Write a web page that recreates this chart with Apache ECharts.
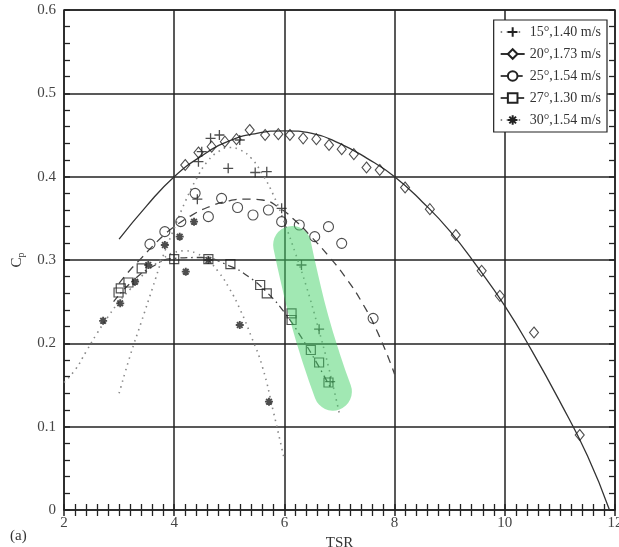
<!DOCTYPE html>
<html>
<head>
<meta charset="utf-8">
<script src="https://cdn.jsdelivr.net/npm/echarts@6/dist/echarts.min.js"></script>
<style>
  html, body { margin: 0; padding: 0; background: #fff; }
  #chart { width: 619px; height: 547px; }
</style>
</head>
<body>
<div id="chart"></div>
<script>
// Measured points (TSR, Cp) for each pitch angle / wind speed case
const seriesNames = ['15°,1.40 m/s', '20°,1.73 m/s', '25°,1.54 m/s', '27°,1.30 m/s', '30°,1.54 m/s'];

const pts15 = [[4.44,0.418],[4.50,0.430],[4.66,0.446],[4.82,0.450],[4.98,0.410],[5.19,0.444],
  [5.47,0.405],[5.68,0.406],[4.42,0.373],[5.95,0.362],[6.31,0.294],[6.63,0.217],[6.83,0.154]];
const pts20 = [[4.20,0.414],[4.44,0.429],[4.68,0.436],[4.92,0.442],[5.13,0.445],[5.37,0.456],
  [5.65,0.450],[5.89,0.451],[6.10,0.450],[6.34,0.446],[6.58,0.445],[6.81,0.438],[7.04,0.433],
  [7.26,0.427],[7.49,0.411],[7.73,0.408],[8.19,0.387],[8.64,0.361],[9.11,0.330],[9.58,0.287],
  [9.91,0.257],[10.53,0.213],[11.36,0.090]];
const pts25 = [[3.56,0.319],[3.83,0.334],[4.12,0.346],[4.38,0.380],[4.62,0.352],[4.86,0.374],
  [5.15,0.363],[5.43,0.354],[5.71,0.360],[5.95,0.346],[6.27,0.342],[6.55,0.328],[6.80,0.340],
  [7.04,0.320],[7.61,0.230]];
const pts27 = [[2.99,0.261],[3.03,0.266],[3.17,0.273],[3.41,0.290],[4.00,0.301],[4.62,0.301],
  [5.02,0.295],[5.56,0.270],[5.68,0.260],[6.13,0.236],[6.13,0.228],[6.48,0.192],[6.63,0.177],[6.80,0.153]];
const pts30 = [[2.71,0.227],[3.02,0.248],[3.29,0.274],[3.53,0.294],[3.83,0.318],[4.10,0.328],
  [4.36,0.346],[4.21,0.286],[4.62,0.300],[5.19,0.222],[5.72,0.130]];

// Fitted curves through each case
const fit15 = [[3.0,0.140],[3.2,0.185],[3.4,0.225],[3.6,0.265],[3.8,0.305],[4.0,0.338],[4.2,0.370],
  [4.4,0.397],[4.6,0.418],[4.8,0.430],[5.0,0.435],[5.2,0.432],[5.4,0.422],[5.6,0.403],[5.8,0.378],
  [6.0,0.345],[6.2,0.308],[6.4,0.268],[6.6,0.222],[6.8,0.172],[7.0,0.115]];
const fit20 = [[3.0,0.325],[3.5,0.365],[4.0,0.400],[4.5,0.425],[5.0,0.443],[5.5,0.452],[6.0,0.455],
  [6.5,0.452],[7.0,0.440],[7.5,0.422],[8.0,0.400],[8.5,0.370],[9.0,0.335],[9.5,0.292],[10.0,0.245],
  [10.5,0.190],[11.0,0.130],[11.5,0.065],[11.9,0.000]];
const fit25 = [[3.0,0.272],[3.2,0.288],[3.4,0.302],[3.6,0.316],[3.8,0.329],[4.0,0.340],[4.3,0.353],
  [4.6,0.363],[5.0,0.371],[5.3,0.373],[5.6,0.372],[5.9,0.363],[6.2,0.347],[6.5,0.327],[6.8,0.305],
  [7.1,0.280],[7.4,0.250],[7.7,0.212],[8.0,0.163]];
const fit27 = [[2.9,0.250],[3.2,0.272],[3.6,0.292],[4.0,0.302],[4.5,0.303],[5.0,0.293],[5.35,0.280],
  [5.7,0.260],[6.0,0.237],[6.3,0.208],[6.6,0.175],[6.85,0.145]];
const fit30 = [[2.0,0.153],[2.2,0.168],[2.4,0.190],[2.6,0.212],[2.8,0.232],[3.0,0.250],[3.2,0.265],
  [3.4,0.280],[3.6,0.292],[3.8,0.302],[4.0,0.309],[4.2,0.311],[4.4,0.308],[4.6,0.300],[4.8,0.286],
  [5.0,0.266],[5.2,0.240],[5.4,0.208],[5.6,0.172],[5.8,0.118],[6.0,0.060]];

// Highlighted stroke over the descending branch
const highlight = [[6.14,0.318],[6.28,0.276],[6.46,0.228],[6.68,0.180],[6.88,0.142]];

const xTicks = { min: 2, max: 12, interval: 2 };
const yTicks = { min: 0, max: 0.6, interval: 0.1 };

const SERIF = 'Liberation Serif';
const INK = '#222';

const symPlus = 'path://M5,0L5,10M0,5L10,5';
const symStar = 'path://M5,0L5,10M0,5L10,5M1.5,1.5L8.5,8.5M8.5,1.5L1.5,8.5';

const groups = [
  { name: seriesNames[0], pts: pts15, fit: fit15, symbol: symPlus, size: 10, bw: 1.3,
    line: { color: '#888', width: 1.6, type: [1.5, 4.5] } },
  { name: seriesNames[1], pts: pts20, fit: fit20, symbol: 'diamond', size: [9, 11], bw: 1.1,
    line: { color: '#333', width: 1.3, type: 'solid' } },
  { name: seriesNames[2], pts: pts25, fit: fit25, symbol: 'circle', size: 10, bw: 1.1,
    line: { color: '#444', width: 1.3, type: [8, 6] } },
  { name: seriesNames[3], pts: pts27, fit: fit27, symbol: 'rect', size: 9, bw: 1.2,
    line: { color: '#444', width: 1.3, type: [7, 4, 1.5, 4] } },
  { name: seriesNames[4], pts: pts30, fit: fit30, symbol: symStar, size: 8, bw: 1.9,
    line: { color: '#888', width: 1.6, type: [1.5, 4.5] } }
];

const series = [];
groups.forEach(g => {
  const itemStyle = { color: 'rgba(0,0,0,0)', borderColor: INK, borderWidth: g.bw };
  series.push({
    name: g.name, type: 'line', data: g.fit, smooth: true,
    symbol: g.symbol, symbolSize: g.size, showSymbol: false,
    itemStyle: itemStyle,
    lineStyle: { color: g.line.color, width: g.line.width, type: g.line.type },
    silent: true, z: 2, animation: false
  });
  series.push({
    name: g.name, type: 'scatter', data: g.pts,
    symbol: g.symbol, symbolSize: g.size,
    itemStyle: itemStyle, z: 3, animation: false
  });
});
series.push({
  name: 'highlight', type: 'line', data: highlight, smooth: true, showSymbol: false,
  lineStyle: { color: 'rgba(68,210,104,0.50)', width: 38, cap: 'round', join: 'round' },
  silent: true, z: 10, animation: false
});

const tickCommon = {
  axisTick: { show: true, inside: true, length: 6, lineStyle: { color: INK, width: 1.5 } },
  minorTick: { show: true, length: 6, lineStyle: { color: INK, width: 1.3 } },
  axisLine: { show: false }
};

const chart = echarts.init(document.getElementById('chart'), null, { renderer: 'canvas' });
chart.setOption({
  animation: false,
  backgroundColor: '#fff',
  grid: {
    left: 64, right: 4, top: 10, bottom: 37,
    containLabel: false, outerBoundsMode: 'none',
    show: true, borderColor: INK, borderWidth: 1.5
  },
  legend: {
    data: seriesNames,
    orient: 'vertical', right: 12, top: 20,
    padding: [5, 6, 5, 6], itemGap: 8, itemWidth: 24, itemHeight: 12,
    backgroundColor: '#fff', borderColor: INK, borderWidth: 1.2, borderRadius: 0,
    itemStyle: { color: '#fff' },
    textStyle: { fontFamily: SERIF, fontSize: 14, color: '#333', padding: [0, 0, 0, 0] },
    z: 20
  },
  xAxis: [
    Object.assign({
      type: 'value', min: xTicks.min, max: xTicks.max, interval: xTicks.interval,
      name: 'TSR', nameLocation: 'middle', nameGap: 22,
      nameTextStyle: { fontFamily: SERIF, fontSize: 15, color: '#333' },
      splitLine: { show: true, lineStyle: { color: INK, width: 1.5 } },
      minorSplitLine: { show: false },
      axisLabel: { fontFamily: SERIF, fontSize: 15, color: '#444', margin: 6 }
    }, tickCommon, { minorTick: Object.assign({ splitNumber: 10 }, tickCommon.minorTick) }),
    Object.assign({
      type: 'value', min: xTicks.min, max: xTicks.max, interval: xTicks.interval, position: 'top',
      splitLine: { show: false }, axisLabel: { show: false }
    }, tickCommon, { minorTick: Object.assign({ splitNumber: 10 }, tickCommon.minorTick) })
  ],
  yAxis: [
    Object.assign({
      type: 'value', min: yTicks.min, max: yTicks.max, interval: yTicks.interval,
      name: '{c|C}{s|p}', nameLocation: 'middle', nameGap: 38,
      nameTextStyle: {
        rich: {
          c: { fontFamily: SERIF, fontSize: 15, color: '#333', lineHeight: 18 },
          s: { fontFamily: SERIF, fontSize: 10, color: '#333', lineHeight: 18, verticalAlign: 'bottom' }
        }
      },
      splitLine: { show: true, lineStyle: { color: INK, width: 1.5 } },
      axisLabel: { fontFamily: SERIF, fontSize: 15, color: '#444', margin: 8 }
    }, tickCommon, { minorTick: Object.assign({ splitNumber: 5 }, tickCommon.minorTick) }),
    Object.assign({
      type: 'value', min: yTicks.min, max: yTicks.max, interval: yTicks.interval, position: 'right',
      splitLine: { show: false }, axisLabel: { show: false }
    }, tickCommon, { minorTick: Object.assign({ splitNumber: 5 }, tickCommon.minorTick) })
  ],
  graphic: [
    { type: 'text', left: 10, top: 529,
      style: { text: '(a)', font: '15px "Liberation Serif"', fill: '#333' } }
  ],
  series: series
});
</script>
</body>
</html>
